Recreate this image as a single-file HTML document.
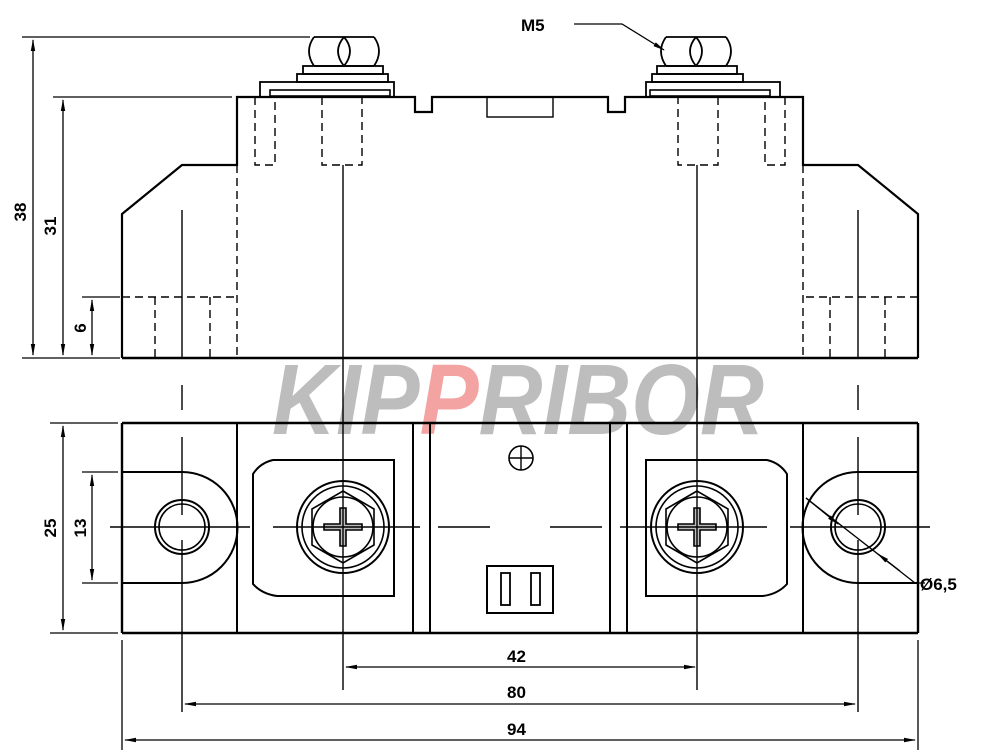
<!DOCTYPE html>
<html><head><meta charset="utf-8"><style>
html,body{margin:0;padding:0;background:#fff;}
svg{display:block}
text{font-family:"Liberation Sans",Arial,sans-serif;fill:#000}
</style></head><body>
<svg width="1000" height="756" viewBox="0 0 1000 756" xmlns="http://www.w3.org/2000/svg">
<defs>
<marker id="a" markerWidth="12" markerHeight="6" refX="11" refY="3" orient="auto-start-reverse" markerUnits="userSpaceOnUse"><path d="M0,0.8 L12,3 L0,5.2z" fill="#000"/></marker>
<g id="half" fill="none" stroke="#000">
 <path d="M122,358 V214 L182,165 H237 V97 H415 V112 H432 V97 H487" stroke-width="2.2"/>
 <path d="M122,358 H520" stroke-width="2.4"/>
 <path d="M314,37 H374 M314,66 H374" stroke-width="1.8"/>
 <path d="M314,37 Q304,51 314,66 M374,37 Q384,51 374,66 M344,37 Q332,51 344,66 M344,37 Q356,51 344,66" stroke-width="1.8"/>
 <rect x="303" y="66" width="80" height="8" stroke-width="1.8"/>
 <rect x="297" y="74" width="91" height="8" stroke-width="1.8"/>
 <rect x="260" y="82" width="134" height="15" stroke-width="1.8"/>
 <rect x="270" y="90" width="120" height="6" stroke-width="1.6"/>
 <g stroke-dasharray="8,5" stroke-width="1.4">
  <path d="M255,97 V165 H275 V97"/>
  <path d="M322,97 V165 H362 V97"/>
  <path d="M237,165 V358"/>
  <path d="M122,297 H237"/>
  <path d="M155,297 V358 M210,297 V358"/>
 </g>
 <path d="M182,210 V358 M343,165 V300" stroke-width="1.4"/>
 <path d="M122,423 H520 M122,633 H520 M122,423 V633" stroke-width="2.4"/>
 <path d="M237,423 V633 M413,423 V633 M430,423 V633" stroke-width="2"/>
 <path d="M122,472 H182 A55,55 0 0 1 182,583 H122" stroke-width="2"/>
 <circle cx="182" cy="527" r="27" stroke-width="2"/>
 <circle cx="182" cy="527" r="23" stroke-width="1.6"/>
 <path d="M273,460 H394 V596 H277 Q262,594 253,584 V474 Q260,463 273,460z" stroke-width="2"/>
 <circle cx="343" cy="527" r="46" stroke-width="2"/>
 <circle cx="343" cy="527" r="41" stroke-width="1.6"/>
 <path d="M343,491 L374,509 L374,545 L343,563 L312,545 L312,509z" stroke-width="1.6"/>
 <circle cx="343" cy="527" r="30" stroke-width="1.6"/>
 <path d="M340,508 H346 V524 H362 V530 H346 V546 H340 V530 H324 V524 H340z" stroke-width="1.6" fill="#bbb"/>
 <path d="M182,385 V410 M182,437 V515 M182,540 V712" stroke-width="1.4"/>
 <path d="M343,300 V690" stroke-width="1.4"/>
 <path d="M110,527 H250 M273,527 H420 M438,527 H490" stroke-width="1.4"/>
</g>
</defs>
<g font-family="Liberation Sans, sans-serif" font-weight="bold" font-style="italic" font-size="100">
<text x="272" y="434" style="fill:#bdbdbd" textLength="492" lengthAdjust="spacingAndGlyphs">KIP<tspan style="fill:#f4a3a3">P</tspan>RIBOR</text>
</g>
<use href="#half"/>
<use href="#half" transform="matrix(-1,0,0,1,1040,0)"/>
<g fill="none" stroke="#000">
 <rect x="487" y="97" width="66" height="20" stroke-width="1.4"/>
 <path d="M487,97 H553" stroke-width="2.2"/>
 <circle cx="521" cy="458" r="12" stroke-width="1.6"/>
 <path d="M509,458 H533 M521,446 V470" stroke-width="1.4"/>
 <rect x="487" y="566" width="66" height="47" stroke-width="2"/>
 <rect x="501" y="573" width="9" height="32" stroke-width="1.8"/>
 <rect x="531" y="573" width="9" height="32" stroke-width="1.8"/>
 <path d="M22,37 H310 M53,97 H232 M82,297 H120 M22,358 H120" stroke-width="1.3"/>
 <path d="M33,40 V355" stroke-width="1.3" marker-start="url(#a)" marker-end="url(#a)"/>
 <path d="M63,100 V355" stroke-width="1.3" marker-start="url(#a)" marker-end="url(#a)"/>
 <path d="M92,300 V355" stroke-width="1.3" marker-start="url(#a)" marker-end="url(#a)"/>
 <path d="M50,423 H118 M50,633 H118 M82,472 H118 M82,583 H118" stroke-width="1.3"/>
 <path d="M63,426 V630" stroke-width="1.3" marker-start="url(#a)" marker-end="url(#a)"/>
 <path d="M92,475 V580" stroke-width="1.3" marker-start="url(#a)" marker-end="url(#a)"/>
 <path d="M122,640 V750 M918,640 V750" stroke-width="1.3"/>
 <path d="M346,667 H695" stroke-width="1.3" marker-start="url(#a)" marker-end="url(#a)"/>
 <path d="M185,704 H855" stroke-width="1.3" marker-start="url(#a)" marker-end="url(#a)"/>
 <path d="M125,740 H915" stroke-width="1.3" marker-start="url(#a)" marker-end="url(#a)"/>
 <path d="M574,24 H622 L664,50" stroke-width="1.3" marker-end="url(#a)"/>
 <path d="M806,498 L915,583 H925" stroke-width="1.3"/>
 <path d="M806,498 L838,524" stroke-width="1.3" marker-end="url(#a)"/>
 <path d="M900,571 L878,554" stroke-width="1.3" marker-end="url(#a)"/>
</g>
<g font-size="17" font-weight="bold">
 <text x="521" y="31">M5</text>
 <text x="920" y="590">Ø6,5</text>
 <text x="507" y="662">42</text>
 <text x="507" y="698">80</text>
 <text x="507" y="735">94</text>
 <text transform="translate(26,212) rotate(-90)" text-anchor="middle">38</text>
 <text transform="translate(56,226) rotate(-90)" text-anchor="middle">31</text>
 <text transform="translate(86,328) rotate(-90)" text-anchor="middle">6</text>
 <text transform="translate(56,528) rotate(-90)" text-anchor="middle">25</text>
 <text transform="translate(86,528) rotate(-90)" text-anchor="middle">13</text>
</g>
</svg>
</body></html>
